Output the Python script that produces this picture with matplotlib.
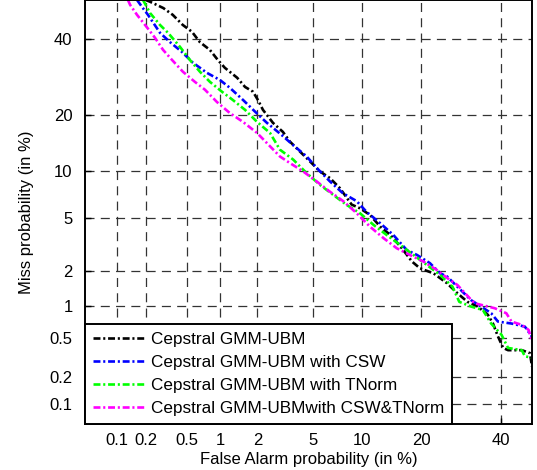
import numpy as np
import matplotlib
matplotlib.use("Agg")
import matplotlib.pyplot as plt
from statistics import NormalDist

# DET curves, values in %  (false alarm, miss)
base_fa = [0.20, 0.22, 0.30, 0.37, 0.46, 0.56, 0.66, 0.81, 0.95, 1.09, 1.38, 1.60,
           1.85, 2.02, 2.21, 2.63, 3.11, 3.49, 4.10, 4.92, 5.58, 6.46, 7.44, 8.73,
           9.75, 11.1, 12.6, 14.2, 16.2, 18.1, 19.7, 22.6, 25.7, 28.2, 30.8, 33.5,
           36.3, 37.7, 39.1, 40.6, 42.0, 46.0, 48.4, 49.0]
base_miss = [52.0, 51.5, 49.5, 47.4, 44.3, 42.2, 39.1, 36.8, 33.9, 31.7, 29.0, 26.6,
             25.4, 23.4, 21.1, 18.3, 16.5, 14.7, 13.0, 11.2, 10.0, 9.13, 7.91, 6.20,
             5.85, 5.27, 4.36, 3.80, 3.02, 2.38, 2.10, 1.91, 1.58, 1.30, 1.09, 0.99,
             0.83, 0.69, 0.52, 0.40, 0.38, 0.38, 0.355, 0.258]

csw_fa = [0.163, 0.184, 0.211, 0.278, 0.348, 0.452, 0.572, 0.764, 0.990, 1.20, 1.54,
          1.92, 2.37, 3.05, 3.67, 4.56, 5.31, 6.46, 7.76, 9.34, 10.6, 12.6, 14.7,
          17.1, 19.1, 21.8, 24.1, 25.7, 28.2, 31.7, 34.4, 37.2, 39.1, 43.0, 46.9,
          49.0, 49.5]
csw_miss = [52.0, 49.8, 47.4, 41.9, 39.1, 36.2, 33.1, 30.3, 28.4, 26.4, 23.4,
            20.7, 18.3, 15.9, 14.1, 12.2, 10.5, 8.71, 7.34, 6.53, 5.55, 4.61, 3.80,
            2.93, 2.68, 2.31, 1.91, 1.80, 1.48, 1.13, 0.99, 0.86, 0.72, 0.69, 0.645,
            0.517, 0.41]

tnorm_fa = [0.188, 0.221, 0.278, 0.333, 0.433, 0.536, 0.662, 0.812, 1.03, 1.27, 1.60,
            1.99, 2.50, 2.96, 3.69, 4.56, 5.58, 6.78, 8.17, 9.75, 11.6, 13.6, 15.9,
            18.4, 21.1, 24.1, 27.0, 28.7, 31.7, 34.9, 37.2, 40.1, 42.0, 46.0, 46.9,
            49.5]
tnorm_miss = [52.0, 48.0, 44.3, 41.9, 37.7, 33.9, 30.6, 27.9, 25.4, 23.4, 21.1,
              18.5, 16.3, 13.3, 11.7, 9.77, 8.30, 7.16, 6.16, 5.42, 4.49, 3.80, 3.20,
              2.68, 2.24, 1.85, 1.48, 1.09, 0.99, 0.92, 0.69, 0.54, 0.40, 0.38, 0.33,
              0.315]

both_fa = [0.131, 0.138, 0.163, 0.197, 0.248, 0.298, 0.364, 0.462, 0.596, 0.733,
           0.934, 1.20, 1.54, 1.99, 2.96, 3.49, 4.32, 5.31, 6.46, 7.79, 9.34, 11.1,
           13.1, 15.3, 17.7, 20.4, 23.3, 26.4, 28.2, 32.6, 38.2, 41.5, 43.0, 46.0,
           48.0, 49.0]
both_miss = [52.0, 50.5, 47.4, 44.3, 40.4, 36.8, 33.9, 30.6, 27.9, 25.9, 22.9, 20.4,
             18.5, 16.3, 12.2, 11.2, 10.0, 8.71, 7.51, 6.53, 5.42, 4.36, 3.60, 3.02,
             2.68, 2.38, 2.04, 1.68, 1.53, 1.06, 0.955, 0.86, 0.72, 0.67, 0.60, 0.46]

labels = ["Cepstral GMM-UBM", "Cepstral GMM-UBM with CSW",
          "Cepstral GMM-UBM with TNorm", "Cepstral GMM-UBMwith CSW&TNorm"]
colors = ["#000000", "#0000ff", "#00ff00", "#ff00ff"]

x_ticks = [0.1, 0.2, 0.5, 1, 2, 5, 10, 20, 40]
y_ticks = [0.1, 0.2, 0.5, 1, 2, 5, 10, 20, 40]
tick_labels = ["0.1", "0.2", "0.5", "1", "2", "5", "10", "20", "40"]

# normal deviate scale
nd = NormalDist()
_ppf = np.vectorize(nd.inv_cdf, otypes=[float])
_cdf = np.vectorize(nd.cdf, otypes=[float])


def to_dev(p):
    p = np.clip(np.asarray(p, dtype=float) / 100.0, 1e-9, 1 - 1e-9)
    return _ppf(p)


def from_dev(z):
    return 100.0 * _cdf(np.asarray(z, dtype=float))


plt.rcParams["font.family"] = ["Liberation Sans", "DejaVu Sans"]
plt.rcParams["lines.scale_dashes"] = False

fig = plt.figure(figsize=(5.37, 4.70), dpi=100)
ax = fig.add_axes([0.1583, 0.0989, 0.8324, 0.9011])
ax.set_xscale("function", functions=(to_dev, from_dev))
ax.set_yscale("function", functions=(to_dev, from_dev))

dashdot = (0, (5, 2.0, 1.5, 2.0))
series = [(base_fa, base_miss), (csw_fa, csw_miss), (tnorm_fa, tnorm_miss), (both_fa, both_miss)]
for (fa, miss), lab, col in zip(series, labels, colors):
    ax.plot(fa, miss, color=col, linestyle=dashdot, linewidth=1.9, label=lab)

ax.set_xlim(0.044, 49.0)
ax.set_ylim(0.060, 52.0)
ax.set_xticks(x_ticks)
ax.set_xticklabels(tick_labels)
ax.set_yticks(y_ticks)
ax.set_yticklabels(tick_labels)
ax.minorticks_off()
ax.tick_params(axis="both", direction="in", length=4, width=1, labelsize=12)
ax.tick_params(axis="y", pad=9)
ax.tick_params(axis="x", pad=7)
ax.grid(True, color="0.2", linestyle=(0, (6.5, 4.5)), linewidth=0.9)
for s in ax.spines.values():
    s.set_linewidth(1.4)

ax.set_xlabel("False Alarm probability (in %)", fontsize=12, labelpad=3)
ax.set_ylabel("Miss probability (in %)", fontsize=12, labelpad=11)

leg = ax.legend(loc="lower left", bbox_to_anchor=(0, 0), borderaxespad=0,
                fontsize=12.3, fancybox=False, framealpha=1, edgecolor="black",
                handlelength=3.0, handletextpad=0.4, labelspacing=0.47, borderpad=0.45)
leg.get_frame().set_linewidth(1.4)

fig.savefig("out.png", dpi=100)
